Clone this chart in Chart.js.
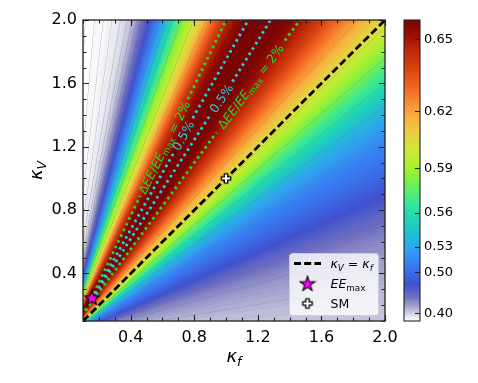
<!DOCTYPE html>
<html>
<head>
<meta charset="utf-8">
<script src="https://cdn.jsdelivr.net/npm/chart.js@4.4.0/dist/chart.umd.min.js"></script>
<style>
html, body { margin: 0; padding: 0; background: #fff; }
#wrap { position: relative; width: 478px; height: 383px; }
#wrap canvas { position: absolute; left: 0; top: 0; }
</style>
</head>
<body>
<div id="wrap">
  <canvas id="mainChart" width="478" height="383"></canvas>
  <canvas id="cbChart" width="478" height="383"></canvas>
</div>
<script>
const angleDeg = [0, 5, 9.5, 12.5, 15.5, 18, 21, 23.5, 26, 28.5, 31, 33, 35.3, 37.3, 39.2, 41, 42.7, 44.3,
  45.6, 47, 48.3, 49.8, 51.3, 52.8, 55, 58.5, 61.8, 63.8, 65.6, 66.9, 68.2, 69.7, 71, 72.1, 73.3, 74.5,
  75.6, 77.1, 78.6, 80, 81.5, 83, 85, 87, 90]
const eeValue = [0.400, 0.410, 0.420, 0.430, 0.440, 0.450, 0.465, 0.480, 0.492, 0.503, 0.512, 0.523, 0.535,
  0.550, 0.565, 0.578, 0.590, 0.600, 0.609, 0.617, 0.624, 0.632, 0.640, 0.647, 0.655, 0.662, 0.653, 0.643,
  0.628, 0.613, 0.600, 0.586, 0.570, 0.552, 0.527, 0.505, 0.482, 0.450, 0.412, 0.385, 0.365, 0.345, 0.320,
  0.295, 0.260]

const xTicks = [0.4, 0.8, 1.2, 1.6, 2.0]
const yTicks = [0.4, 0.8, 1.2, 1.6, 2.0]
const cbTicks = [0.40, 0.50, 0.53, 0.56, 0.59, 0.62, 0.65]

const eeMaxPoint = [0.156, 0.248]
const smPoint = [1.0, 1.0]
const diagLine = [[0.1, 0.1], [2.0, 2.0]]

// dotted Delta EE / EE_max contours, split where the inline label sits
const dEE2Left = [[[0.115, 0.165], [0.46, 0.89]], [[0.76, 1.50], [1.0, 2.0]]]
const dEE05Left = [[[0.135, 0.205], [0.67, 1.16]], [[0.79, 1.38], [1.14, 2.0]]]
const dEE05Right = [[[0.135, 0.205], [0.90, 1.40]], [[1.04, 1.61], [1.28, 2.0]]]
const dEE2Right = [[[0.115, 0.165], [0.94, 1.29]], [[1.37, 1.87], [1.465, 2.0]]]

// colour normalisation (power norm) and colormap
const NORM = { vmin: 0.228, vmax: 0.657, gamma: 4 }
const CMAP = [
  [0, '#ffffff'], [0.013, '#e8e8f0'], [0.046, '#a8a8d0'], [0.08, '#7070c0'], [0.123, '#4050d0'],
  [0.179, '#3878f0'], [0.236, '#30a0f0'], [0.289, '#20c0d0'], [0.345, '#20d8b0'], [0.402, '#40e890'],
  [0.455, '#70f050'], [0.511, '#a8f030'], [0.568, '#d0e838'], [0.621, '#e8d040'], [0.677, '#f8b040'],
  [0.733, '#f88830'], [0.787, '#ee6020'], [0.843, '#d84010'], [0.899, '#c02808'], [0.943, '#a01005'],
  [1, '#7a0403']
]
const LEVEL_STEP = 0.02
const GREEN = '#26d826'
const CYAN = '#22d0e2'
const FONT = '"DejaVu Sans", sans-serif'

const norm = v => {
  let t = (v - NORM.vmin) / (NORM.vmax - NORM.vmin)
  t = Math.min(1, Math.max(0, t))
  return Math.pow(t, NORM.gamma)
}

const hexRgb = h => [parseInt(h.slice(1, 3), 16), parseInt(h.slice(3, 5), 16), parseInt(h.slice(5, 7), 16)]
const lut = []
for (let i = 0; i < 256; i++) {
  const f = i / 255
  let k = 1
  while (k < CMAP.length - 1 && CMAP[k][0] < f) k++
  const [f0, c0] = CMAP[k - 1], [f1, c1] = CMAP[k]
  const t = (f - f0) / (f1 - f0)
  const a = hexRgb(c0), b = hexRgb(c1)
  lut.push([0, 1, 2].map(j => a[j] + t * (b[j] - a[j])))
}

function eeAt(kf, kV) {
  const a = Math.atan2(kV, kf) * 180 / Math.PI
  if (a <= angleDeg[0]) return eeValue[0]
  for (let i = 1; i < angleDeg.length; i++) {
    if (a <= angleDeg[i]) {
      const t = (a - angleDeg[i - 1]) / (angleDeg[i] - angleDeg[i - 1])
      return eeValue[i - 1] + t * (eeValue[i] - eeValue[i - 1])
    }
  }
  return eeValue[eeValue.length - 1]
}

const fontOf = s => (s.it ? 'italic ' : '') + s.size + 'px ' + FONT
function richWidth(ctx, segs) {
  let w = 0
  segs.forEach(s => { ctx.font = fontOf(s); w += ctx.measureText(s.t).width })
  return w
}
function drawRich(ctx, segs, x, y, align) {
  let cx = align === 'center' ? x - richWidth(ctx, segs) / 2 : x
  ctx.textBaseline = 'alphabetic'
  ctx.textAlign = 'left'
  segs.forEach(s => {
    ctx.font = fontOf(s)
    ctx.fillText(s.t, cx, y + (s.dy || 0))
    cx += ctx.measureText(s.t).width
  })
}

// marker images
function makeStar() {
  const c = document.createElement('canvas'); c.width = 18; c.height = 18
  const g = c.getContext('2d')
  g.beginPath()
  for (let i = 0; i < 10; i++) {
    const r = i % 2 ? 3.1 : 7.8
    const a = -Math.PI / 2 + i * Math.PI / 5
    g.lineTo(9 + r * Math.cos(a), 9.6 + r * Math.sin(a))
  }
  g.closePath()
  g.fillStyle = '#ff00ff'; g.fill()
  g.lineWidth = 1.1; g.strokeStyle = '#000'; g.stroke()
  return c
}
function makePlus() {
  const c = document.createElement('canvas'); c.width = 14; c.height = 14
  const g = c.getContext('2d')
  const m = 7, L = 4.7, w = 1.7
  g.beginPath()
  g.moveTo(m - w, m - L); g.lineTo(m + w, m - L); g.lineTo(m + w, m - w); g.lineTo(m + L, m - w)
  g.lineTo(m + L, m + w); g.lineTo(m + w, m + w); g.lineTo(m + w, m + L); g.lineTo(m - w, m + L)
  g.lineTo(m - w, m + w); g.lineTo(m - L, m + w); g.lineTo(m - L, m - w); g.lineTo(m - w, m - w)
  g.closePath()
  g.fillStyle = '#fff'; g.fill()
  g.lineWidth = 1.3; g.strokeStyle = '#000'; g.stroke()
  return c
}
const starImg = makeStar()
const plusImg = makePlus()

const LBL2 = [{ t: 'Δ', size: 12.5 }, { t: 'EE', size: 12.5, it: true }, { t: '/', size: 12.5 }, { t: 'EE', size: 12.5, it: true },
  { t: 'max', size: 8.8, dy: 2.5 }, { t: ' = 2%', size: 12.5 }]
const LBL05 = [{ t: '0.5%', size: 12.5 }]
const contours = [
  { segs: dEE2Left, color: GREEN, label: LBL2 },
  { segs: dEE05Left, color: CYAN, label: LBL05 },
  { segs: dEE05Right, color: CYAN, label: LBL05 },
  { segs: dEE2Right, color: GREEN, label: LBL2 }
]

const toXY = arr => arr.map(p => ({ x: p[0], y: p[1] }))
const datasets = [
  { label: 'EE_max', data: toXY([eeMaxPoint]), pointStyle: starImg, pointRadius: 8, order: 0 },
  { label: 'SM', data: toXY([smPoint]), pointStyle: plusImg, pointRadius: 7, order: 0 },
  { label: 'kV = kf', data: toXY(diagLine), showLine: true, borderColor: '#000', borderWidth: 2.8,
    borderDash: [7.5, 3.5], pointRadius: 0, order: 2 }
]
contours.forEach(c => c.segs.forEach(seg => datasets.push({
  data: toXY(seg), showLine: true, borderColor: c.color, borderWidth: 2.8, borderDash: [2.6, 3.7],
  pointRadius: 0, order: 3
})))

const heatmapPlugin = {
  id: 'heatmap',
  beforeDatasetsDraw(chart) {
    const { ctx, chartArea: a, scales: { x, y } } = chart
    const L = Math.round(a.left), T = Math.round(a.top)
    const W = Math.round(a.right) - L, H = Math.round(a.bottom) - T
    const vals = new Float32Array(W * H)
    for (let j = 0; j < H; j++) {
      const kV = y.getValueForPixel(T + j + 0.5)
      for (let i = 0; i < W; i++) vals[j * W + i] = eeAt(x.getValueForPixel(L + i + 0.5), kV)
    }
    const lev = v => (v < 0.65 ? Math.floor(v / LEVEL_STEP) : 999)
    const img = ctx.createImageData(W, H)
    for (let j = 0; j < H; j++) {
      for (let i = 0; i < W; i++) {
        const v = vals[j * W + i]
        const c = lut[Math.round(norm(v) * 255)]
        const l0 = lev(v)
        let edge = false
        if (i < W - 1 && lev(vals[j * W + i + 1]) !== l0) edge = true
        if (j < H - 1 && lev(vals[(j + 1) * W + i]) !== l0) edge = true
        const k = 4 * (j * W + i)
        const al = edge ? 0.2 : 0
        img.data[k] = c[0] * (1 - al) + 100 * al
        img.data[k + 1] = c[1] * (1 - al) + 100 * al
        img.data[k + 2] = c[2] * (1 - al) + 100 * al
        img.data[k + 3] = 255
      }
    }
    const off = document.createElement('canvas')
    off.width = W; off.height = H
    off.getContext('2d').putImageData(img, 0, 0)
    ctx.drawImage(off, L, T)
  }
}

const framePlugin = {
  id: 'frame',
  afterDatasetsDraw(chart) {
    const { ctx, chartArea: a, scales: { x, y } } = chart
    ctx.save()
    // inline contour labels
    contours.forEach(c => {
      const p1 = c.segs[0][c.segs[0].length - 1], p2 = c.segs[1][0]
      const x1 = x.getPixelForValue(p1[0]), y1 = y.getPixelForValue(p1[1])
      const x2 = x.getPixelForValue(p2[0]), y2 = y.getPixelForValue(p2[1])
      ctx.save()
      ctx.translate((x1 + x2) / 2, (y1 + y2) / 2)
      ctx.rotate(Math.atan2(y2 - y1, x2 - x1))
      ctx.fillStyle = c.color
      drawRich(ctx, c.label, 0, 4.4, 'center')
      ctx.restore()
    })
    // ticks
    ctx.strokeStyle = '#222'
    ctx.lineWidth = 1.1
    const minors = []
    for (let k = 1; k <= 20; k++) minors.push(k / 10)
    const tick = (v, len, isX) => {
      ctx.beginPath()
      if (isX) {
        const p = Math.round(x.getPixelForValue(v)) + 0.5
        ctx.moveTo(p, a.bottom); ctx.lineTo(p, a.bottom - len)
        ctx.moveTo(p, a.top); ctx.lineTo(p, a.top + len)
      } else {
        const p = Math.round(y.getPixelForValue(v)) + 0.5
        ctx.moveTo(a.left, p); ctx.lineTo(a.left + len, p)
        ctx.moveTo(a.right, p); ctx.lineTo(a.right - len, p)
      }
      ctx.stroke()
    }
    minors.forEach(v => { tick(v, 3.5, true); tick(v, 3.5, false) })
    xTicks.forEach(v => tick(v, 6, true))
    yTicks.forEach(v => tick(v, 6, false))
    ctx.lineWidth = 1.3
    ctx.strokeRect(a.left, a.top, a.right - a.left, a.bottom - a.top)
    ctx.restore()
  },
  afterDraw(chart) {
    const { ctx, chartArea: a } = chart
    ctx.save()
    // legend
    const bw = 89, bh = 62
    const bx = a.right - 7 - bw, by = a.bottom - 6 - bh
    ctx.beginPath()
    ctx.roundRect(bx + 0.5, by + 0.5, bw, bh, 3)
    ctx.fillStyle = 'rgba(255,255,255,0.8)'
    ctx.fill()
    ctx.strokeStyle = '#cccccc'
    ctx.lineWidth = 1
    ctx.stroke()
    const hx = bx + 18.5, tx = bx + 41.5
    const rows = [by + 10.5, by + 30.5, by + 50.5]
    ctx.strokeStyle = '#000'
    ctx.lineWidth = 2.8
    ctx.setLineDash([7, 3.2])
    ctx.beginPath(); ctx.moveTo(hx - 13.5, rows[0]); ctx.lineTo(hx + 13.5, rows[0]); ctx.stroke()
    ctx.setLineDash([])
    ctx.drawImage(starImg, hx - 9, rows[1] - 9)
    ctx.drawImage(plusImg, hx - 7, rows[2] - 7)
    ctx.fillStyle = '#000'
    drawRich(ctx, [{ t: 'κ', size: 12.5, it: true }, { t: 'V', size: 8.8, it: true, dy: 2.5 },
      { t: ' = ', size: 12.5 }, { t: 'κ', size: 12.5, it: true }, { t: 'f', size: 8.8, it: true, dy: 2.5 }],
      tx, rows[0] + 4.5, 'left')
    drawRich(ctx, [{ t: 'EE', size: 12.5, it: true }, { t: 'max', size: 8.8, dy: 2.5 }], tx, rows[1] + 4.5, 'left')
    drawRich(ctx, [{ t: 'SM', size: 12.5 }], tx, rows[2] + 4.5, 'left')
    // axis titles
    drawRich(ctx, [{ t: 'κ', size: 18, it: true }, { t: 'f', size: 12.6, it: true, dy: 3.5 }],
      (a.left + a.right) / 2, 362, 'center')
    ctx.translate(42, (a.top + a.bottom) / 2)
    ctx.rotate(-Math.PI / 2)
    drawRich(ctx, [{ t: 'κ', size: 18, it: true }, { t: 'V', size: 12.6, it: true, dy: 3.5 }], 0, 0, 'center')
    ctx.restore()
  }
}

const tickFont = { family: FONT, size: 16 }
new Chart(document.getElementById('mainChart'), {
  type: 'scatter',
  data: { datasets: datasets },
  options: {
    responsive: false,
    animation: false,
    layout: { padding: { left: 0, top: 20, right: 93, bottom: 0 } },
    plugins: { legend: { display: false }, tooltip: { enabled: false } },
    scales: {
      x: {
        type: 'linear', min: 0.1, max: 2.0,
        afterBuildTicks: s => { s.ticks = xTicks.map(v => ({ value: v })) },
        afterFit: s => { s.height = 62 },
        grid: { display: false, drawTicks: false },
        border: { display: false },
        ticks: { padding: 7, color: '#000', font: tickFont, maxRotation: 0, autoSkip: false,
          callback: v => v.toFixed(1) }
      },
      y: {
        type: 'linear', min: 0.1, max: 2.0,
        afterBuildTicks: s => { s.ticks = yTicks.map(v => ({ value: v })) },
        afterFit: s => { s.width = 83 },
        grid: { display: false, drawTicks: false },
        border: { display: false },
        ticks: { padding: 6, color: '#000', font: tickFont, autoSkip: false,
          callback: v => v.toFixed(1) }
      }
    }
  },
  plugins: [heatmapPlugin, framePlugin]
})

const cbGradient = c => {
  const a = c.chart.chartArea
  if (!a) return '#888'
  const g = c.chart.ctx.createLinearGradient(0, a.bottom, 0, a.top)
  CMAP.forEach(s => g.addColorStop(s[0], s[1]))
  return g
}
const cbFramePlugin = {
  id: 'cbFrame',
  afterDatasetsDraw(chart) {
    const { ctx, chartArea: a, scales: { y } } = chart
    ctx.save()
    ctx.strokeStyle = '#222'
    ctx.lineWidth = 1.1
    cbTicks.forEach(v => {
      const p = Math.round(y.getPixelForValue(norm(v))) + 0.5
      ctx.beginPath(); ctx.moveTo(a.right, p); ctx.lineTo(a.right - 5, p); ctx.stroke()
    })
    ctx.strokeRect(a.left, a.top, a.right - a.left, a.bottom - a.top)
    ctx.restore()
  }
}
new Chart(document.getElementById('cbChart'), {
  type: 'bar',
  data: {
    labels: [''],
    datasets: [{ data: [[0, 1]], backgroundColor: cbGradient, borderWidth: 0,
      barPercentage: 1, categoryPercentage: 1 }]
  },
  options: {
    responsive: false,
    animation: false,
    layout: { padding: { left: 404, top: 20, bottom: 62, right: 0 } },
    plugins: { legend: { display: false }, tooltip: { enabled: false } },
    scales: {
      x: { display: false },
      y: {
        position: 'right', min: 0, max: 1,
        afterBuildTicks: s => { s.ticks = cbTicks.map(v => ({ value: norm(v) })) },
        afterFit: s => { s.width = 58 },
        grid: { display: false, drawTicks: false },
        border: { display: false },
        ticks: { padding: 4, color: '#000', autoSkip: false, font: { family: FONT, size: 13 },
          callback: (v, i) => cbTicks[i].toFixed(2) }
      }
    }
  },
  plugins: [cbFramePlugin]
})
</script>
</body>
</html>
